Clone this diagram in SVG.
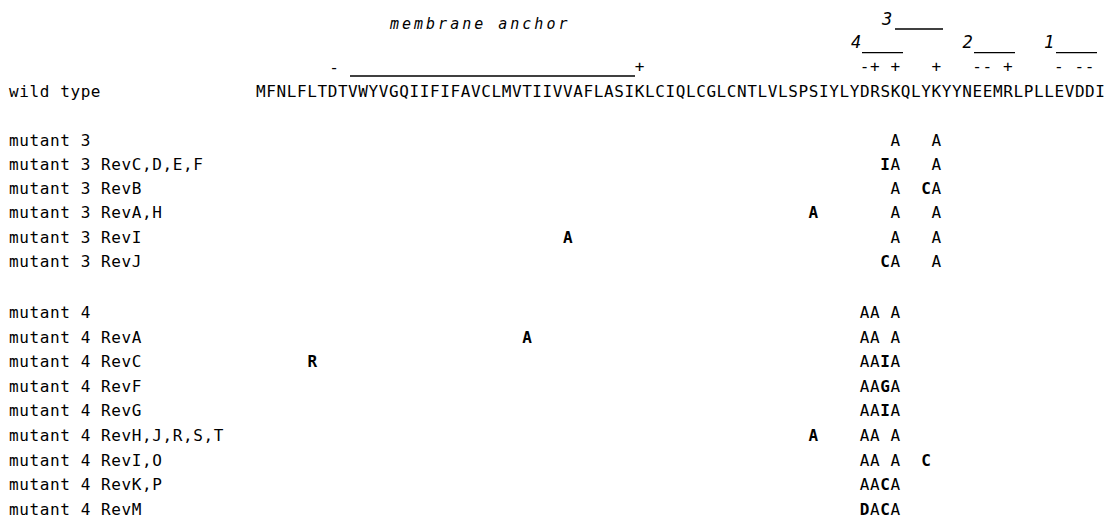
<svg xmlns="http://www.w3.org/2000/svg" width="1113" height="520" viewBox="0 0 1113 520">
<style>
text{font-family:"DejaVu Sans Mono","Liberation Mono",monospace;font-size:16px;fill:#000;}
.lbl{letter-spacing:0.6px;}
.m{text-anchor:middle;}
.b{font-weight:bold;}
.it{font-style:italic;}
.dg{font-style:italic;font-size:17px;text-anchor:middle;}
.ln{stroke:#000;stroke-width:1.3;fill:none;}
</style>
<rect width="1113" height="520" fill="#fff"/>
<g id="header">
<text class="it" x="390" y="29" style="font-size:15px;letter-spacing:3px">membrane anchor</text>
<line class="ln" x1="350" y1="76" x2="635" y2="76"/>
<text class="m" y="73"><tspan x="334">-</tspan><tspan x="639.5" y="72">+</tspan></text>
<text class="dg" x="887" y="25">3</text>
<line class="ln" x1="895" y1="29" x2="943" y2="29"/>
<text class="dg" x="856" y="48">4</text>
<line class="ln" x1="862" y1="52.7" x2="903" y2="52.7"/>
<text class="dg" x="967.5" y="48">2</text>
<line class="ln" x1="974" y1="52.7" x2="1015" y2="52.7"/>
<text class="dg" x="1049" y="48">1</text>
<line class="ln" x1="1056" y1="52.7" x2="1097" y2="52.7"/>
<text class="m" y="72"><tspan x="864.6">-</tspan><tspan x="874.8">+</tspan><tspan x="895.3">+</tspan><tspan x="936.2">+</tspan><tspan x="977.1">-</tspan><tspan x="987.3">-</tspan><tspan x="1007.8">+</tspan><tspan x="1058.9">-</tspan><tspan x="1079.4">-</tspan><tspan x="1089.6">-</tspan></text>
</g>
<g id="wildtype">
<text class="lbl" x="9" y="97">wild type</text>
<text x="256" y="97" textLength="849" lengthAdjust="spacing">MFNLFLTDTVWYVGQIIFIFAVCLMVTIIVVAFLASIKLCIQLCGLCNTLVLSPSIYLYDRSKQLYKYYNEEMRLPLLEVDDI</text>
</g>
<g id="mutant3">
<text class="lbl" x="9" y="145.5">mutant 3</text>
<text class="m" y="145.5"><tspan x="895.3">A</tspan><tspan x="936.2">A</tspan></text>
</g>
<g id="mutant3-RevCDEF">
<text class="lbl" x="9" y="169.8">mutant 3 RevC,D,E,F</text>
<text class="m" y="169.8"><tspan class="b" x="885">I</tspan><tspan x="895.3">A</tspan><tspan x="936.2">A</tspan></text>
</g>
<g id="mutant3-RevB">
<text class="lbl" x="9" y="194.1">mutant 3 RevB</text>
<text class="m" y="194.1"><tspan x="895.3">A</tspan><tspan class="b" x="926">C</tspan><tspan x="936.2">A</tspan></text>
</g>
<g id="mutant3-RevAH">
<text class="lbl" x="9" y="218.4">mutant 3 RevA,H</text>
<text class="m" y="218.4"><tspan class="b" x="813.4">A</tspan><tspan x="895.3">A</tspan><tspan x="936.2">A</tspan></text>
</g>
<g id="mutant3-RevI">
<text class="lbl" x="9" y="242.7">mutant 3 RevI</text>
<text class="m" y="242.7"><tspan class="b" x="567.9">A</tspan><tspan x="895.3">A</tspan><tspan x="936.2">A</tspan></text>
</g>
<g id="mutant3-RevJ">
<text class="lbl" x="9" y="267">mutant 3 RevJ</text>
<text class="m" y="267"><tspan class="b" x="885">C</tspan><tspan x="895.3">A</tspan><tspan x="936.2">A</tspan></text>
</g>
<g id="mutant4">
<text class="lbl" x="9" y="318">mutant 4</text>
<text class="m" y="318"><tspan x="864.6">A</tspan><tspan x="874.8">A</tspan><tspan x="895.3">A</tspan></text>
</g>
<g id="mutant4-RevA">
<text class="lbl" x="9" y="342.6">mutant 4 RevA</text>
<text class="m" y="342.6"><tspan class="b" x="527">A</tspan><tspan x="864.6">A</tspan><tspan x="874.8">A</tspan><tspan x="895.3">A</tspan></text>
</g>
<g id="mutant4-RevC">
<text class="lbl" x="9" y="367.2">mutant 4 RevC</text>
<text class="m" y="367.2"><tspan class="b" x="312.2">R</tspan><tspan x="864.6">A</tspan><tspan x="874.8">A</tspan><tspan class="b" x="885">I</tspan><tspan x="895.3">A</tspan></text>
</g>
<g id="mutant4-RevF">
<text class="lbl" x="9" y="391.8">mutant 4 RevF</text>
<text class="m" y="391.8"><tspan x="864.6">A</tspan><tspan x="874.8">A</tspan><tspan class="b" x="885">G</tspan><tspan x="895.3">A</tspan></text>
</g>
<g id="mutant4-RevG">
<text class="lbl" x="9" y="416.4">mutant 4 RevG</text>
<text class="m" y="416.4"><tspan x="864.6">A</tspan><tspan x="874.8">A</tspan><tspan class="b" x="885">I</tspan><tspan x="895.3">A</tspan></text>
</g>
<g id="mutant4-RevHJRST">
<text class="lbl" x="9" y="441">mutant 4 RevH,J,R,S,T</text>
<text class="m" y="441"><tspan class="b" x="813.4">A</tspan><tspan x="864.6">A</tspan><tspan x="874.8">A</tspan><tspan x="895.3">A</tspan></text>
</g>
<g id="mutant4-RevIO">
<text class="lbl" x="9" y="465.6">mutant 4 RevI,O</text>
<text class="m" y="465.6"><tspan x="864.6">A</tspan><tspan x="874.8">A</tspan><tspan x="895.3">A</tspan><tspan class="b" x="926">C</tspan></text>
</g>
<g id="mutant4-RevKP">
<text class="lbl" x="9" y="490.2">mutant 4 RevK,P</text>
<text class="m" y="490.2"><tspan x="864.6">A</tspan><tspan x="874.8">A</tspan><tspan class="b" x="885">C</tspan><tspan x="895.3">A</tspan></text>
</g>
<g id="mutant4-RevM">
<text class="lbl" x="9" y="514.8">mutant 4 RevM</text>
<text class="m" y="514.8"><tspan class="b" x="864.6">D</tspan><tspan x="874.8">A</tspan><tspan class="b" x="885">C</tspan><tspan x="895.3">A</tspan></text>
</g>
</svg>
